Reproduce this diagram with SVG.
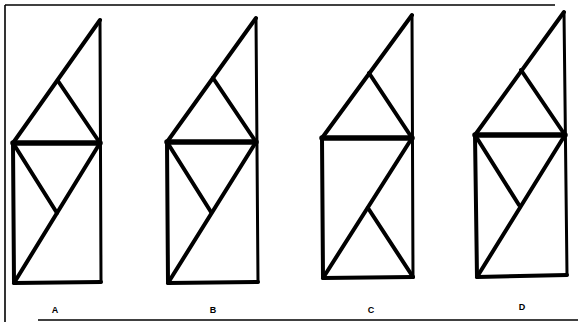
<svg xmlns="http://www.w3.org/2000/svg" width="578" height="322" viewBox="0 0 578 322">
<style>
.f{stroke:#000;fill:none;stroke-linecap:round;stroke-linejoin:round}
.m{stroke-width:4}
.h{stroke-width:5.5}
.v{stroke-width:3}
.fr{stroke:#000;stroke-width:1.6;fill:none}
.lbl{font-family:"Liberation Sans",Arial,sans-serif;font-size:9px;font-weight:bold;fill:#000;text-anchor:middle}
</style>
<rect width="578" height="322" fill="#fff"/>
<g id="frame">
<line class="fr" x1="5" y1="5" x2="5" y2="322"/>
<line class="fr" x1="5" y1="5" x2="555" y2="5"/>
<line class="fr" x1="38" y1="320" x2="578" y2="320"/>
</g>
<g id="figA">
<line class="f v" x1="100" y1="20" x2="101" y2="282"/>
<polyline class="f m" points="100,20 13,143 14,283 101,282"/>
<line class="f h" x1="13" y1="143" x2="100" y2="143"/>
<line class="f m" x1="58" y1="81" x2="100" y2="143"/>
<line class="f m" x1="14" y1="283" x2="100" y2="143"/>
<line class="f m" x1="13" y1="143" x2="57" y2="213"/>
<text class="lbl" x="55" y="313">A</text>
</g>
<g id="figB">
<line class="f v" x1="256" y1="18" x2="258" y2="282"/>
<polyline class="f m" points="256,18 167,142 168,283 258,282"/>
<line class="f h" x1="167" y1="142" x2="256" y2="142"/>
<line class="f m" x1="213" y1="78" x2="256" y2="142"/>
<line class="f m" x1="168" y1="283" x2="256" y2="142"/>
<line class="f m" x1="167" y1="142" x2="211" y2="212"/>
<text class="lbl" x="213" y="313">B</text>
</g>
<g id="figC">
<line class="f v" x1="412" y1="15" x2="413" y2="277"/>
<polyline class="f m" points="412,15 322,138 323,278 413,277"/>
<line class="f h" x1="322" y1="138" x2="412" y2="138"/>
<line class="f m" x1="369" y1="73" x2="412" y2="138"/>
<line class="f m" x1="323" y1="278" x2="412" y2="138"/>
<line class="f m" x1="368" y1="208" x2="413" y2="277"/>
<text class="lbl" x="371" y="313">C</text>
</g>
<g id="figD">
<line class="f v" x1="564" y1="12" x2="567" y2="275"/>
<polyline class="f m" points="564,12 475,135 477,277 567,275"/>
<line class="f h" x1="475" y1="135" x2="565" y2="135"/>
<line class="f m" x1="521" y1="70" x2="565" y2="135"/>
<line class="f m" x1="477" y1="277" x2="565" y2="135"/>
<line class="f m" x1="475" y1="135" x2="519" y2="205"/>
<text class="lbl" x="522" y="310">D</text>
</g>
</svg>
